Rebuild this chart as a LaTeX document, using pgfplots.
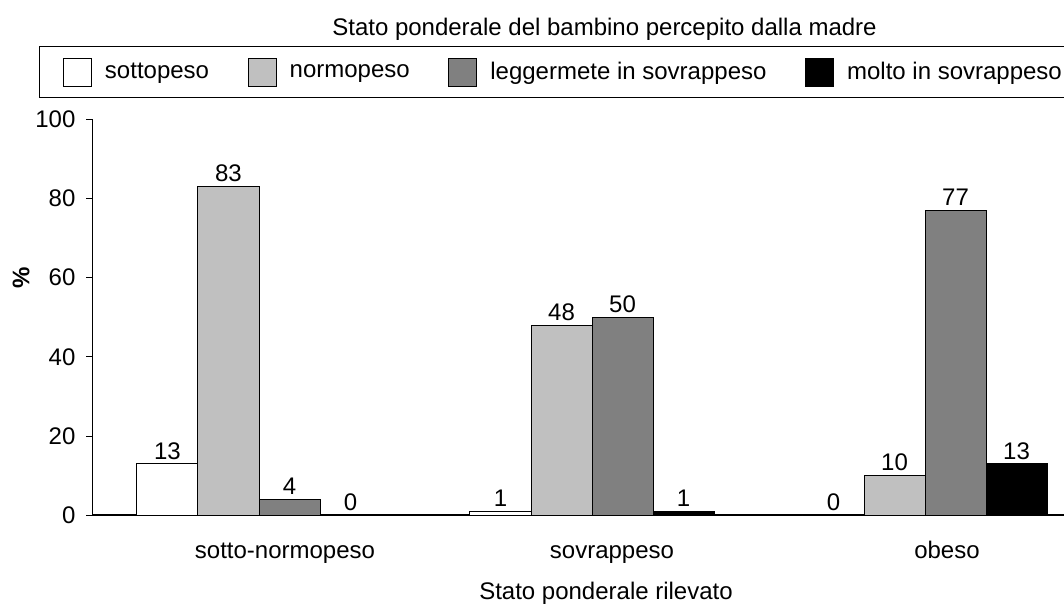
\documentclass[border=0pt]{standalone}
\usepackage{pgfplots}
\pgfplotsset{compat=1.18}
\usepackage{fontspec}
\setmainfont{Liberation Sans}

\definecolor{lgray}{RGB}{192,192,192}
\definecolor{dgray}{RGB}{128,128,128}

\begin{document}
\begin{tikzpicture}[font=\fontsize{12}{14}\selectfont]
    % page = 1064 x 608 px, 1 px = 0.5 pt, axis box lower-left at (0,0)
    \path[use as bounding box] (-46.25pt,-46.35pt) rectangle (485.75pt,257.65pt);

    \begin{axis}[
        at={(0pt,0pt)}, anchor=south west,
        scale only axis,
        width=499.5pt, height=198pt,
        xmin=-0.5, xmax=2.5,
        ymin=0, ymax=100,
        axis x line*=bottom,
        axis y line*=left,
        x axis line style={line width=0.9pt},
        y axis line style={line width=0.5pt},
        ytick={0,20,40,60,80,100},
        tick align=outside,
        major tick length=3pt,
        ytick style={line width=0.5pt, black},
        yticklabel style={xshift=-2pt},
        xtick={0.078,1.06,2.066},
        xticklabels={sotto-normopeso, sovrappeso, obeso},
        xtick style={draw=none},
        xticklabel style={anchor=base, yshift=-18.85pt},
        /pgf/number format/assume math mode=true,
        ybar, bar width=0.1832,
        nodes near coords,
        every node near coord/.append style={inner sep=0pt, yshift=2pt, font=\fontsize{12}{14}\selectfont},
        clip=false,
        legend columns=4,
        legend style={
            at={(-0.05305,1.1851)}, anchor=north west,
            draw=black, line width=0.5pt,
            inner xsep=11.5pt, inner ysep=5.6pt,
            nodes={inner sep=0pt, anchor=west},
            /tikz/every odd column/.append style={column sep=6.5pt},
            /tikz/every even column/.append style={column sep=19.3pt},
        },
        sq/.style={draw=black, line width=0.5pt,
            legend image code/.code={\draw[##1, draw=black, line width=0.5pt] (0pt,-7pt) rectangle (14pt,7pt);}},
    ]

    \addplot[sq, fill=white, bar shift=-0.2748]
        coordinates {(0,13) (1,1) (2,0)};
    \addlegendentry{sottopeso}

    \addplot[sq, fill=lgray, bar shift=-0.0916]
        coordinates {(0,83) (1,48) (2,10)};
    \addlegendentry{normopeso}

    \addplot[sq, fill=dgray, bar shift=0.0916]
        coordinates {(0,4) (1,50) (2,77)};
    \addlegendentry{leggermete in sovrappeso}

    \addplot[sq, fill=black, bar shift=0.2748]
        coordinates {(0,0) (1,1) (2,13)};
    \addlegendentry{molto in sovrappeso}

    \end{axis}

    % titoli
    \node[anchor=base] at (256pt,239.65pt) {Stato ponderale del bambino percepito dalla madre};
    \node[anchor=base] at (256.75pt,-42.35pt) {Stato ponderale rilevato};
    \node[rotate=90, font=\fontsize{12}{14}\selectfont\bfseries] at (-35.75pt,118.65pt) {\%};
\end{tikzpicture}
\end{document}
